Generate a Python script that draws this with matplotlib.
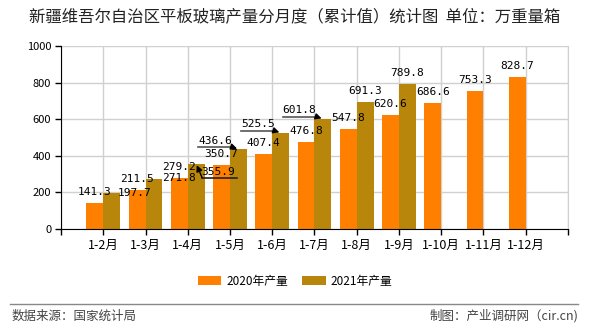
import numpy as np
import matplotlib
matplotlib.use("Agg")
import matplotlib.pyplot as plt
from matplotlib.lines import Line2D

plt.rcParams["font.family"] = ["Noto Sans CJK SC", "DejaVu Sans"]

# =========================
# Data
# =========================
months = ["1-2月", "1-3月", "1-4月", "1-5月", "1-6月", "1-7月",
          "1-8月", "1-9月", "1-10月", "1-11月", "1-12月"]
prod_2020 = [141.3, 211.5, 279.2, 350.7, 407.4, 476.8, 547.8, 620.6, 686.6, 753.3, 828.7]
prod_2021 = [197.7, 271.8, 355.9, 436.6, 525.5, 601.8, 691.3, 789.8, np.nan, np.nan, np.nan]
series_names = ["2020年产量", "2021年产量"]

title = "新疆维吾尔自治区平板玻璃产量分月度（累计值）统计图  单位：万重量箱"
source_text = "数据来源：国家统计局"
credit_text = "制图：产业调研网（cir.cn)"

C2020 = "#FF8000"
C2021 = "#B8860B"
NUM_FONT = "DejaVu Sans Mono"

fig = plt.figure(figsize=(5.9, 3.3), dpi=100)
ax = fig.add_axes([0.1034, 0.3061, 0.8593, 0.5545])

x = np.arange(len(months))
w = 0.4
b20 = ax.bar(x - w / 2, prod_2020, width=w, color=C2020, zorder=2, label=series_names[0])
b21 = ax.bar(x + w / 2, prod_2021, width=w, color=C2021, zorder=2, label=series_names[1])

ax.set_xlim(-1, 11)
ax.set_ylim(0, 1000)
ax.set_yticks(np.arange(0, 1001, 200))
ax.set_xticks(np.arange(-1, 12))
ax.set_xticklabels([""] + months + [""])
ax.tick_params(axis="both", direction="out", length=4, width=1, colors="black", pad=3)
ax.tick_params(axis="y", labelsize=8)
ax.tick_params(axis="x", labelsize=9)

ax.grid(True, color="#D0D0D0", lw=1, zorder=0)
ax.set_axisbelow(True)
ax.spines["top"].set_visible(False)
ax.spines["right"].set_color("#D0D0D0")
ax.spines["left"].set_color("black")
ax.spines["bottom"].set_color("black")

# ---- value labels ----
for xi, v in zip(x - w / 2, prod_2020):
    ax.annotate(f"{v:.1f}", (xi, v), xytext=(0, 11), textcoords="offset pixels",
                ha="center", va="center", fontsize=8, family=NUM_FONT, zorder=4)

# placement of 2021 labels (pixel offsets from bar top): (dx, dy, ha, leader)
placements = [
    (6, 0, "left", None),
    (8, 1, "left", None),
    (22, -8, "center", "below"),
    (-23, 8, "center", "above"),
    (-23, 9, "center", "above"),
    (-24, 9, "center", "above"),
    (0, 11, "center", None),
    (0, 11, "center", None),
]
arrow_kw = dict(arrowstyle="-|>", color="black", lw=1, mutation_scale=9, shrinkA=0, shrinkB=1)
for i, (dx, dy, ha, leader) in enumerate(placements):
    v = prod_2021[i]
    xi = x[i] + w / 2
    ax.annotate(f"{v:.1f}", (xi, v), xytext=(dx, dy), textcoords="offset pixels",
                ha=ha, va="center", fontsize=8, family=NUM_FONT, zorder=4)
    if leader is None:
        continue
    top = ax.transData.transform((xi, v))
    if leader == "above":
        a, b, yy, col = -40, -6, 2, "#555555"
        start = (b, yy)
    else:
        a, b, yy, col = 6, 41, -14, "#222222"
        start = (a, yy)
    ax.add_line(Line2D([top[0] + a, top[0] + b], [top[1] + yy, top[1] + yy],
                       transform=None, color=col, lw=1.2, zorder=5))
    ax.annotate("", xy=(xi, v), xytext=start, textcoords="offset pixels",
                arrowprops=arrow_kw, zorder=5)

# ---- title, legend, footer ----
fig.text(0.5, 0.948, title, ha="center", va="center", fontsize=11.8, color="#222222")

fig.legend(handles=[b20, b21], labels=series_names, loc="center",
           bbox_to_anchor=(0.5, 0.148), ncol=2, frameon=False, fontsize=8.5,
           handlelength=2.0, handleheight=0.8, columnspacing=1.2, handletextpad=0.4)

fig.add_artist(Line2D([0.017, 0.98], [0.079, 0.079], transform=fig.transFigure,
                      color="#888888", lw=1))
fig.text(0.02, 0.042, source_text, ha="left", va="center", fontsize=9, color="#444444")
fig.text(0.98, 0.042, credit_text, ha="right", va="center", fontsize=9, color="#444444")

fig.savefig("out.png", dpi=100)
